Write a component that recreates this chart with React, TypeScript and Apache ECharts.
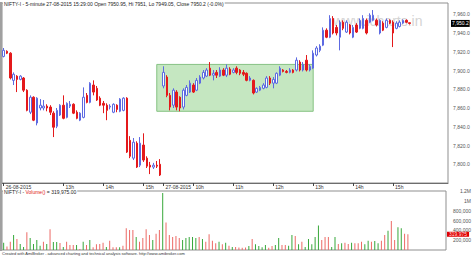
import React, { useEffect, useRef } from 'react';
import * as echarts from 'echarts';

// Trading sessions shown on the axis (5-minute bars); the tail of the last
// session is left empty so the plot keeps its right-hand margin.
const sessions = [
  { date: '26-08-2015', start: '11:30', end: '15:25' },
  { date: '27-08-2015', start: '09:15', end: '16:20' },
];

const tickTimes = [
  '26-08-2015 11:30', '26-08-2015 13:00', '26-08-2015 14:00', '26-08-2015 15:00',
  '27-08-2015 09:15', '27-08-2015 10:00', '27-08-2015 11:00', '27-08-2015 12:00',
  '27-08-2015 13:00', '27-08-2015 14:00', '27-08-2015 15:00',
];
const tickLabels = ['26-08-2015', '13h', '14h', '15h', '27-08-2015', '10h', '11h', '12h', '13h', '14h', '15h'];

const opens = [
  7915, 7920.5, 7918.5, 7889.5, 7894, 7890.5, 7892, 7879, 7855.5, 7871.5,
  7844, 7860, 7860, 7862, 7861, 7854.5, 7840.5, 7852.5, 7863, 7850,
  7862, 7864, 7855.5, 7847, 7850, 7873.5, 7866, 7884.5, 7881, 7870.5,
  7865, 7863, 7861, 7855.5, 7863, 7856.5, 7857.5, 7870.5, 7825.5, 7806.5,
  7822.5, 7799, 7820.5, 7806.5, 7799, 7797, 7799, 7800, 7883.5, 7893,
  7873.5, 7863, 7877, 7871.5, 7861, 7873.5, 7877, 7884.5, 7879, 7886.5,
  7892, 7894, 7902.5, 7895, 7898, 7894, 7900.5, 7895, 7901.5, 7898,
  7902.5, 7900.5, 7898, 7897, 7889.5, 7889.5, 7877, 7879, 7881, 7882,
  7892, 7886.5, 7886.5, 7895, 7900.5, 7899, 7898, 7900.5, 7900.5, 7909,
  7900.5, 7911, 7900.5, 7902.5, 7916.5, 7921.5, 7927, 7943, 7935.5, 7955.5,
  7946, 7935.5, 7951.5, 7941, 7948.5, 7935.5, 7948.5, 7945, 7945, 7953.5,
  7951.5, 7953.5, 7953.5, 7940, 7950.5, 7946, 7953.5, 7951.5, 7945, 7947,
  7950.5, 7953.5, 7950.95,
];
const closes = [
  7921.5, 7918.5, 7892, 7896, 7890.5, 7894, 7879, 7857.5, 7871.5, 7847,
  7870.5, 7863, 7862, 7860, 7855.5, 7839.5, 7857.5, 7863, 7849, 7865,
  7864, 7854.5, 7849, 7854.5, 7871.5, 7866, 7886.5, 7877, 7868.5, 7863,
  7863, 7857.5, 7862, 7864, 7858.5, 7869.5, 7870.5, 7813, 7808.5, 7823.5,
  7797, 7822.5, 7804.5, 7798, 7797, 7799, 7798, 7788.5, 7898, 7873.5,
  7861, 7879, 7861, 7860, 7879, 7882, 7886.5, 7877, 7889.5, 7893,
  7898, 7900.5, 7895, 7897, 7895, 7900.5, 7895, 7902.5, 7896, 7900.5,
  7898, 7897, 7896, 7889.5, 7892, 7876, 7881, 7882, 7884.5, 7892,
  7886.5, 7890.5, 7897, 7902.5, 7899, 7898, 7900.5, 7898, 7911, 7900.5,
  7906.5, 7900.5, 7904.5, 7918.5, 7924, 7926, 7943, 7935.5, 7955.5, 7940,
  7940, 7951.5, 7945, 7951.5, 7940, 7946, 7941, 7953.5, 7955.5, 7940,
  7959, 7959, 7948.5, 7953.5, 7943, 7953.5, 7950.5, 7940, 7950.5, 7951.5,
  7953.5, 7951.5, 7950.2,
];
const lows = [
  7914, 7917.5, 7890.5, 7884.5, 7877, 7889.5, 7877, 7856.5, 7853.5, 7846,
  7841.5, 7857.5, 7857.5, 7856.5, 7852.5, 7829, 7838.5, 7851.5, 7848, 7849,
  7860, 7853.5, 7848, 7846, 7849, 7865, 7865, 7873.5, 7867.5, 7862,
  7854.5, 7847, 7858.5, 7854.5, 7855.5, 7855.5, 7856.5, 7812, 7806.5, 7804.5,
  7796, 7797, 7802.5, 7796, 7789.5, 7795, 7796, 7787.5, 7881, 7871.5,
  7857.5, 7860, 7857.5, 7856.5, 7858.5, 7872.5, 7876, 7876, 7878, 7885.5,
  7890.5, 7893, 7894, 7889.5, 7892, 7893, 7894, 7893, 7895, 7897,
  7896, 7895, 7894, 7888.5, 7888.5, 7874.5, 7876, 7878, 7880, 7881,
  7884.5, 7881, 7885.5, 7894, 7898, 7897, 7897, 7897, 7899, 7899,
  7899, 7899, 7899, 7901.5, 7915, 7919.5, 7926, 7934.5, 7934.5, 7938.5,
  7937.5, 7921.5, 7943, 7940, 7938.5, 7934.5, 7940, 7944, 7944, 7938.5,
  7950.5, 7952.5, 7947, 7938.5, 7942, 7945, 7949.5, 7925, 7944, 7946,
  7949.5, 7950.5, 7949.05,
];
const highs = [
  7924, 7921.5, 7919.5, 7898, 7895, 7895, 7893, 7880, 7873.5, 7872.5,
  7871.5, 7869.5, 7868.5, 7864, 7863, 7856.5, 7860, 7864, 7873.5, 7866,
  7867.5, 7865, 7857.5, 7855.5, 7882, 7876, 7887.5, 7889.5, 7883.5, 7872.5,
  7867.5, 7865, 7864, 7865, 7864, 7870.5, 7871.5, 7871.5, 7830, 7828,
  7824.5, 7829, 7833, 7808.5, 7802.5, 7801.5, 7803.5, 7805.5, 7904.5, 7895,
  7876, 7881, 7879, 7872.5, 7881, 7884.5, 7889.5, 7886.5, 7892, 7895,
  7900.5, 7902.5, 7909, 7900.5, 7900.5, 7903.5, 7902.5, 7906.5, 7903.5, 7902.5,
  7904.5, 7901.5, 7900.5, 7898, 7894, 7890.5, 7882, 7883.5, 7886.5, 7894,
  7894, 7893, 7898, 7904.5, 7901.5, 7900.5, 7902.5, 7901.5, 7914, 7911,
  7909, 7916.5, 7906.5, 7921.5, 7926, 7928, 7946, 7945, 7959, 7958,
  7948.5, 7953.5, 7953.5, 7953.5, 7949.5, 7948.5, 7950.5, 7955.5, 7959, 7955.5,
  7961, 7964.5, 7955.5, 7954.5, 7952.5, 7955.5, 7954.5, 7953.5, 7952.5, 7953.5,
  7954.5, 7954.5, 7951,
];
const volumes = [
  150000, 70000, 170000, 306000, 225000, 122000, 60000, 360000, 245000, 122000,
  204000, 88000, 170000, 122000, 422000, 163000, 163000, 140000, 60000, 170000,
  100000, 100000, 100000, 20000, 170000, 100000, 204000, 55000, 115000, 122000,
  150000, 60000, 190000, 55000, 55000, 55000, 88000, 442000, 408000, 408000,
  265000, 170000, 245000, 422000, 306000, 204000, 333000, 408000, 1157000, 557000,
  306000, 265000, 285000, 245000, 204000, 245000, 265000, 265000, 245000, 265000,
  225000, 170000, 320000, 190000, 136000, 170000, 115000, 150000, 88000, 60000,
  60000, 50000, 45000, 50000, 80000, 225000, 115000, 80000, 55000, 100000,
  45000, 80000, 100000, 245000, 100000, 100000, 88000, 306000, 285000, 115000,
  170000, 60000, 225000, 115000, 265000, 496000, 204000, 265000, 265000, 60000,
  265000, 122000, 136000, 150000, 122000, 150000, 136000, 136000, 170000, 115000,
  190000, 170000, 183000, 136000, 190000, 306000, 394000, 592000, 204000, 462000,
  442000, 333000, 319975,
];
// Volume bar colouring: G = up bar, R = down bar
const volumeDirs = (
  'GRRGRGGRGG' + 'GGRGRGGRGR' + 'RRGRGRGRRR' + 'RGRRRGRRRR' + 'GRRRRGRRGR' +
  'RRRRGGGGGR' + 'GRRRRGRGRG' + 'RRRRGRGGGG' + 'RRGGRRGGRG' + 'RGGGGGRRRG' +
  'GRGRRGRRRG' + 'GRGGRRGRRG' + 'GRR'
).split('');

// Highlighted consolidation box: [from bar, to bar] x [upper, lower] price
const boxBars = [46, 93];
const boxPrices = [7906.5, 7856.5];

const FONT = 'Liberation Sans';
const BLUE = '#5d6ae2';
const RED = '#e4191b';
const VOL_GREEN = '#37a83a';
const VOL_RED = '#ec6a66';
const FRAME = '#8f8f8f';

function buildCategories(): string[] {
  const out: string[] = [];
  for (const s of sessions) {
    const [sh, sm] = s.start.split(':').map(Number);
    const [eh, em] = s.end.split(':').map(Number);
    for (let t = sh * 60 + sm; t <= eh * 60 + em; t += 5) {
      const hh = String(Math.floor(t / 60)).padStart(2, '0');
      const mm = String(t % 60).padStart(2, '0');
      out.push(`${s.date} ${hh}:${mm}`);
    }
  }
  return out;
}

const fmtPrice = (v: number) =>
  v.toLocaleString('en-US', { minimumFractionDigits: 1, maximumFractionDigits: 1 });
const fmtVolAxis = (v: number) => {
  if (v === 0) return '';
  if (v >= 1000000) return `${v / 1000000}M`;
  return v.toLocaleString('en-US');
};

export default function App() {
  const ref = useRef<HTMLDivElement>(null);

  useEffect(() => {
    const chart = echarts.init(ref.current!, null, { renderer: 'svg' });
    const categories = buildCategories();
    const last = closes.length - 1;
    const candleData = opens.map((o, i) => [o, closes[i], lows[i], highs[i]]);
    const volumeData = volumes.map((v, i) => ({
      value: v,
      itemStyle: { color: volumeDirs[i] === 'G' ? VOL_GREEN : VOL_RED },
    }));
    const lastVol = volumes[last];
    const change = ((closes[last] - closes[last - 1]) / closes[last - 1]) * 100;

    const title =
      `NIFTY-I - 5-minute 27-08-2015 15:29:00 Open ${opens[last]}, Hi ${highs[last]}, ` +
      `Lo ${lows[last]}, Close ${closes[last]} (${change.toFixed(1)}%)`;
    const volTitleValue = lastVol.toLocaleString('en-US', { minimumFractionDigits: 2 });

    const isTick = (_i: number, v: string) => tickTimes.includes(v);

    chart.setOption({
      animation: false,
      backgroundColor: '#ffffff',
      textStyle: { fontFamily: FONT },
      grid: [
        { left: 2, top: 3, right: 26, height: 180, show: true, borderColor: FRAME, borderWidth: 1 },
        { left: 2, top: 191, right: 26, height: 59, show: true, borderColor: FRAME, borderWidth: 1 },
      ],
      xAxis: [
        {
          type: 'category',
          gridIndex: 0,
          data: categories,
          boundaryGap: true,
          axisLine: { show: true, lineStyle: { color: '#6d6d6d', width: 1 } },
          axisTick: {
            show: true,
            alignWithLabel: true,
            interval: isTick,
            length: 3,
            lineStyle: { color: '#444' },
          },
          axisLabel: {
            show: true,
            interval: isTick,
            formatter: (v: string) => tickLabels[tickTimes.indexOf(v)] ?? '',
            align: 'left',
            padding: [0, 0, 0, 2],
            margin: 1,
            fontSize: 5,
            color: '#333',
            fontFamily: FONT,
          },
          splitLine: { show: false },
        },
        {
          type: 'category',
          gridIndex: 1,
          data: categories,
          boundaryGap: true,
          axisLine: { show: false },
          axisTick: { show: false },
          axisLabel: { show: false },
          splitLine: { show: false },
        },
      ],
      yAxis: [
        {
          type: 'value',
          gridIndex: 0,
          position: 'right',
          min: 7780,
          max: 7972,
          interval: 20,
          splitLine: { show: false },
          axisLine: { show: false },
          axisTick: { show: false },
          axisLabel: {
            margin: 5,
            fontSize: 5,
            color: '#555',
            fontFamily: FONT,
            showMinLabel: false,
            showMaxLabel: false,
            formatter: (v: number) => (v % 20 === 0 && v > 7780 ? fmtPrice(v) : ''),
          },
        },
        {
          type: 'value',
          gridIndex: 1,
          position: 'right',
          min: 0,
          max: 1200000,
          interval: 200000,
          splitLine: { show: false },
          axisLine: { show: false },
          axisTick: { show: false },
          axisLabel: {
            align: 'right',
            margin: 25,
            fontSize: 5,
            color: '#555',
            fontFamily: FONT,
            formatter: fmtVolAxis,
          },
        },
      ],
      series: [
        {
          type: 'candlestick',
          xAxisIndex: 0,
          yAxisIndex: 0,
          data: candleData,
          barWidth: 2,
          itemStyle: {
            color: '#ffffff',
            color0: RED,
            borderColor: BLUE,
            borderColor0: RED,
            borderWidth: 1,
          },
          markArea: {
            silent: true,
            itemStyle: { color: '#c5e7c1', borderColor: '#86c283', borderWidth: 1 },
            data: [[
              { xAxis: boxBars[0], yAxis: boxPrices[0] },
              { xAxis: boxBars[1], yAxis: boxPrices[1] },
            ]],
          },
          markLine: {
            silent: true,
            symbol: ['none', 'none'],
            lineStyle: { color: 'rgba(0,0,0,0)', width: 1 },
            label: {
              position: 'end',
              distance: 3,
              formatter: (p: any) => fmtPrice(p.value),
              backgroundColor: '#000',
              color: '#fff',
              fontSize: 5,
              fontFamily: FONT,
              padding: [1, 1, 1, 1],
            },
            data: [{ yAxis: closes[last] }],
          },
        },
        {
          type: 'bar',
          xAxisIndex: 1,
          yAxisIndex: 1,
          data: volumeData,
          barWidth: 1,
          markLine: {
            silent: true,
            symbol: ['none', 'none'],
            lineStyle: { color: 'rgba(0,0,0,0)', width: 1 },
            label: {
              position: 'end',
              distance: 1,
              formatter: (p: any) => Number(p.value).toLocaleString('en-US'),
              backgroundColor: '#e00000',
              color: '#ffdede',
              fontSize: 5,
              lineHeight: 5,
              fontFamily: FONT,
              padding: [0, 2, 0, 2],
            },
            data: [{ yAxis: lastVol }],
          },
        },
      ],
      graphic: [
        {
          type: 'text',
          x: 333,
          y: 14,
          z: 0,
          silent: true,
          style: { text: 'www.icharts.in', fontSize: 14, fontFamily: FONT, fill: '#d4d4d4' },
        },
        { type: 'rect', shape: { x: 0, y: 2, width: 2, height: 249 }, z: 50, style: { fill: '#a0a0a0' } },
        {
          type: 'text',
          x: 3,
          y: 1,
          z: 60,
          style: {
            text: title,
            fontSize: 5,
            fontFamily: FONT,
            fill: '#222',
            backgroundColor: '#fff',
            padding: [0, 1, 0, 1],
          },
        },
        {
          type: 'text',
          x: 3,
          y: 189,
          z: 60,
          style: {
            text: `{a|NIFTY-I - }{b|Volume()}{a| = ${volTitleValue}}`,
            fontSize: 5,
            fontFamily: FONT,
            backgroundColor: '#fff',
            padding: [0, 1, 0, 1],
            rich: {
              a: { fontSize: 5, fontFamily: FONT, fill: '#222', color: '#222' },
              b: { fontSize: 5, fontFamily: FONT, fill: '#e02020', color: '#e02020' },
            },
          },
        },
        {
          type: 'text',
          x: 2,
          y: 251,
          z: 60,
          style: {
            text: 'Created with AmiBroker - advanced charting and technical analysis software. http://www.amibroker.com',
            fontSize: 4,
            fontFamily: FONT,
            fill: '#333',
          },
        },
      ],
    });

    return () => chart.dispose();
  }, []);

  return (
    <div
      ref={ref}
      style={{ position: 'fixed', left: 0, top: 0, width: 474, height: 257, background: '#fff' }}
    />
  );
}
